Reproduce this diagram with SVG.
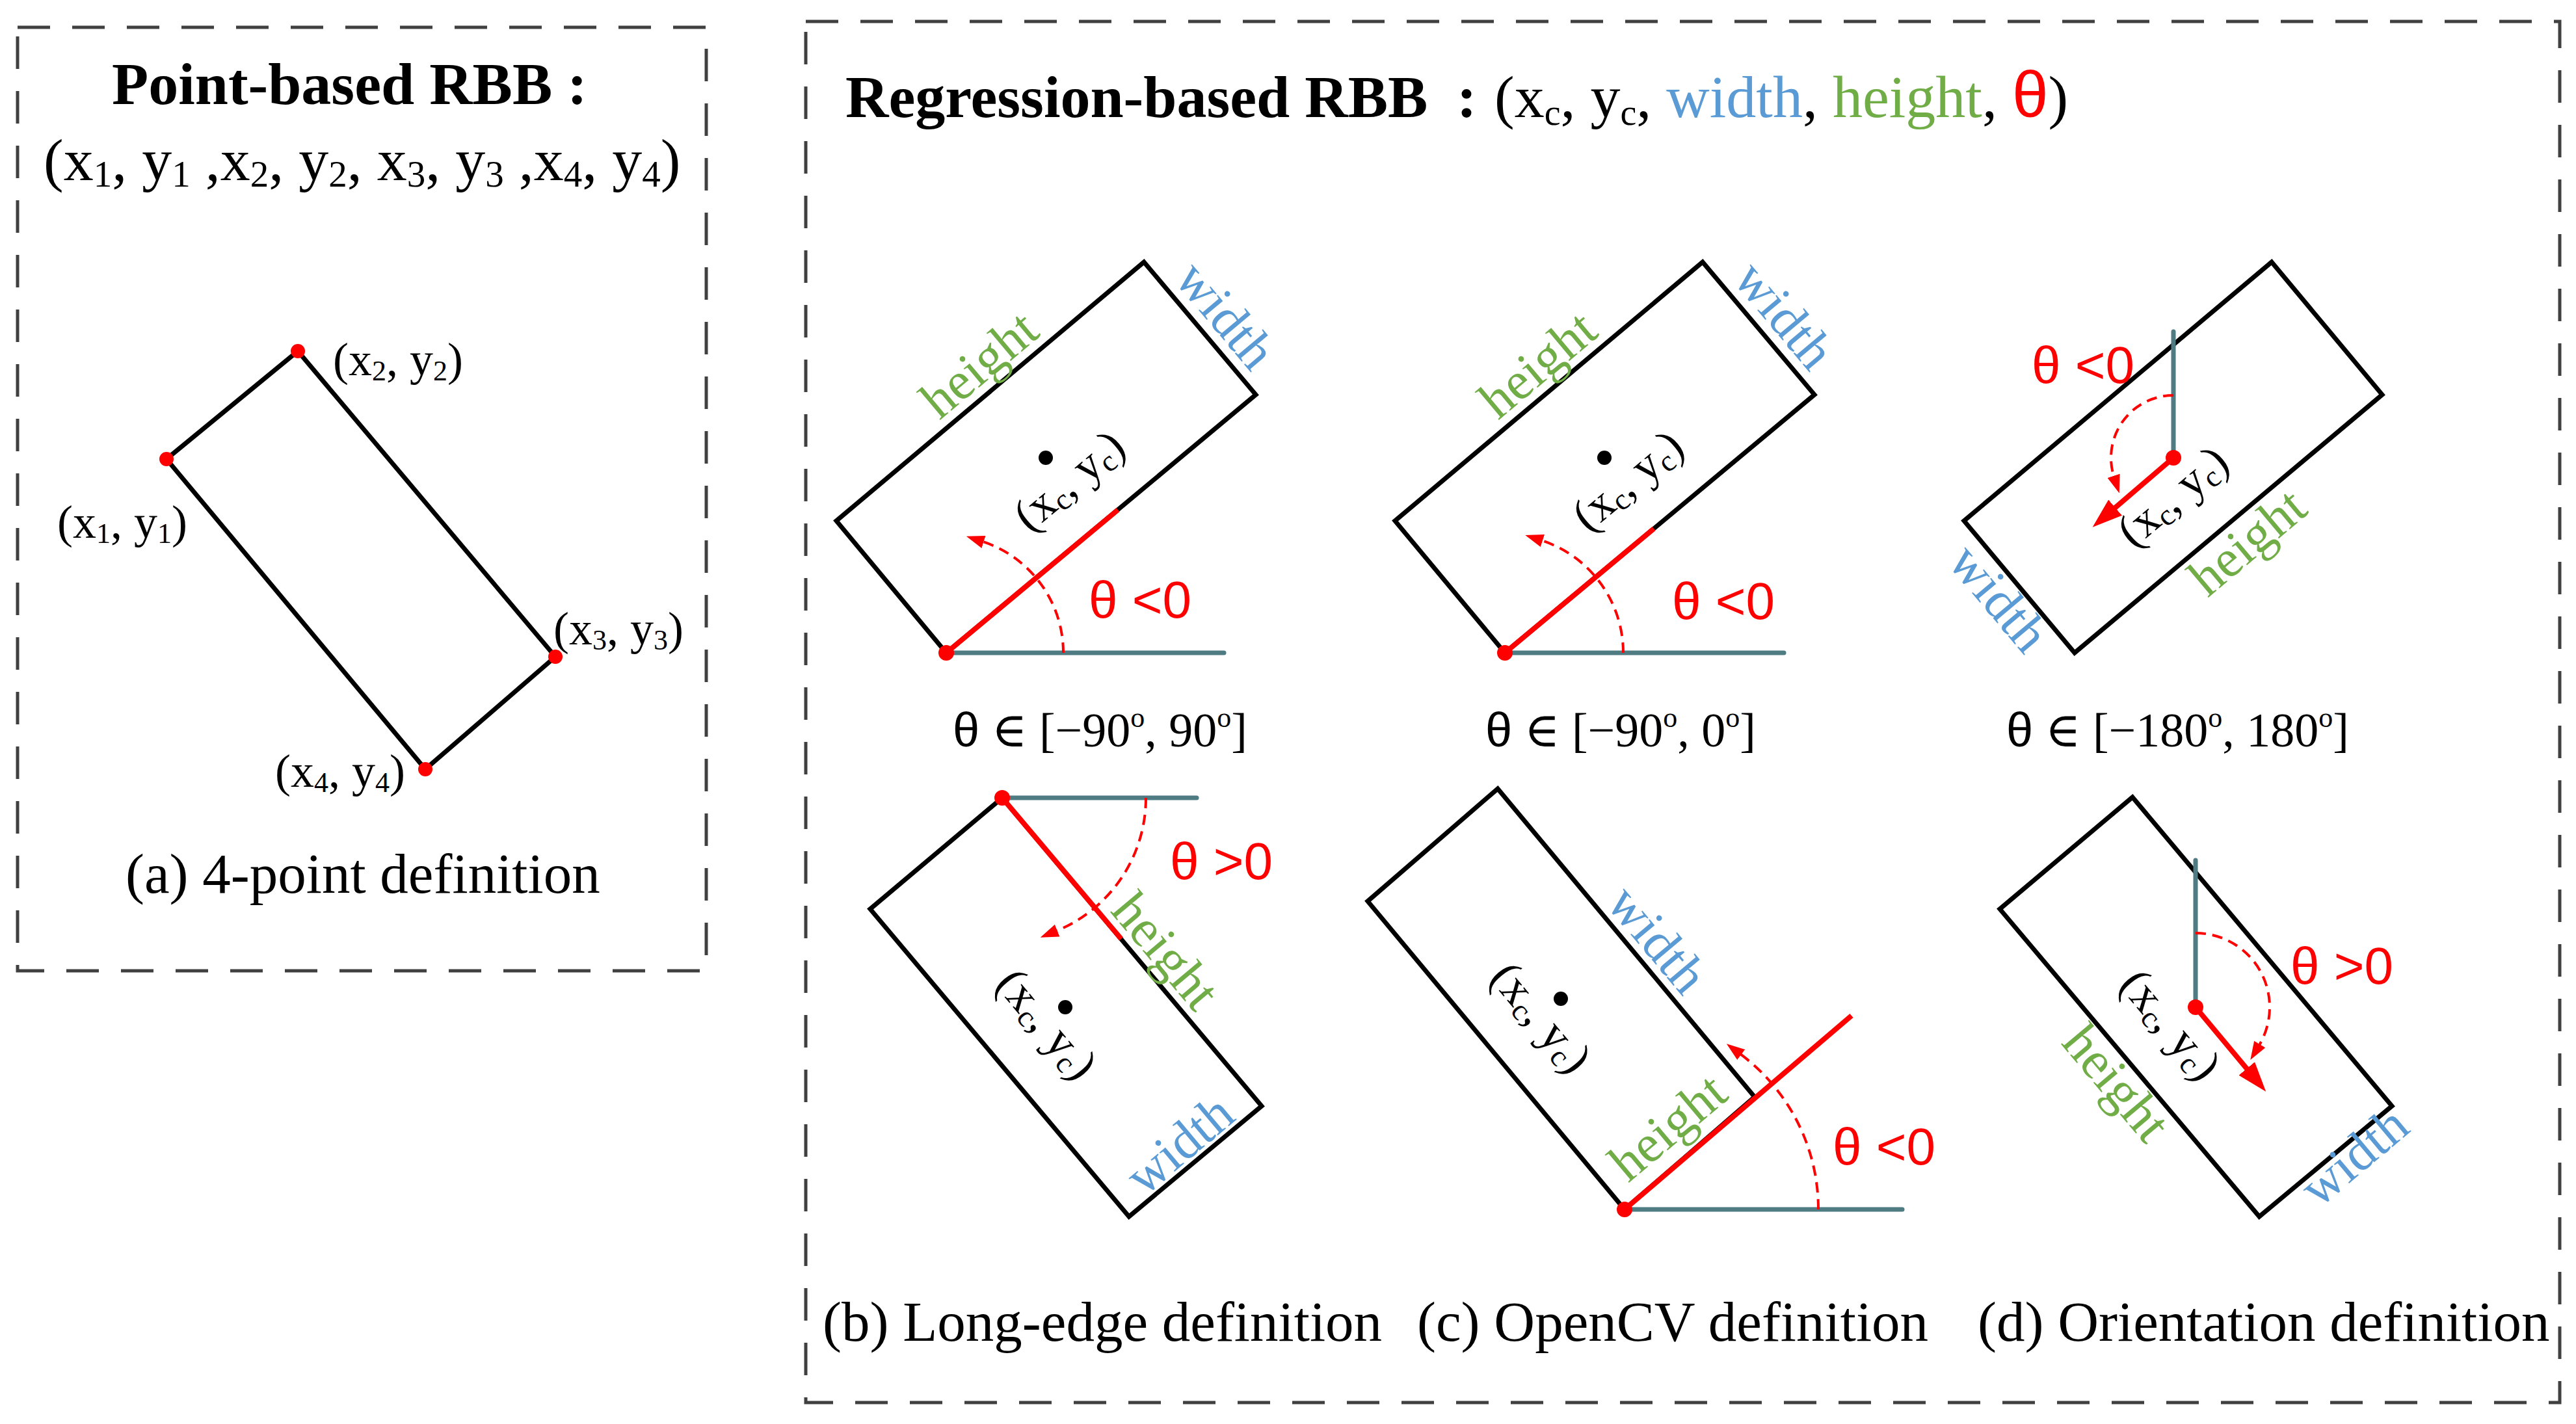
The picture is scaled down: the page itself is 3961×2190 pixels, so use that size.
<svg xmlns="http://www.w3.org/2000/svg" width="3961" height="2190" viewBox="0 0 3961 2190">
<style>
.frame{fill:none;stroke:#404040;stroke-width:5;stroke-dasharray:50 34}
.box{fill:none;stroke:#000;stroke-width:7;stroke-linejoin:miter}
.ref{stroke:#4F7B82;stroke-width:7;stroke-linecap:round;fill:none}
.red{stroke:#FF0000;stroke-width:8;fill:none}
.arc{stroke:#FF0000;stroke-width:4;fill:none;stroke-dasharray:16 10}
.serif{font-family:"Liberation Serif","Times New Roman","DejaVu Serif",serif;fill:#000}
.sans{font-family:"Liberation Sans",Arial,sans-serif}
.hgt{fill:#70AD47;font-family:"Liberation Serif","Times New Roman",serif;font-size:82px}
.wid{fill:#5B9BD5;font-family:"Liberation Serif","Times New Roman",serif;font-size:82px}
.ang{fill:#FF0000;font-family:"Liberation Sans",Arial,sans-serif;font-size:80px}
.cap{font-family:"Liberation Serif","Times New Roman",serif;font-size:87px;fill:#000}
.xc{font-family:"Liberation Serif","Times New Roman",serif;font-size:72px;fill:#000}
.rdot{fill:#FF0000}
</style>
<defs>
<marker id="ah" markerUnits="userSpaceOnUse" markerWidth="28" markerHeight="20" viewBox="0 0 28 20" refX="2" refY="10" orient="auto"><path d="M0,0 L28,10 L0,20 z" fill="#FF0000"/></marker>
<marker id="ahBig" markerUnits="userSpaceOnUse" markerWidth="46" markerHeight="32" viewBox="0 0 46 32" refX="2" refY="16" orient="auto"><path d="M0,0 L46,16 L0,32 z" fill="#FF0000"/></marker>
</defs>
<rect width="3961" height="2190" fill="#fff"/>

<g id="panel-a">
<rect class="frame" x="27" y="42" width="1059" height="1451"/>
<text class="serif" x="172" y="160" font-size="92" font-weight="bold">Point-based RBB :</text>
<text class="serif" x="67" y="277" font-size="92">(x<tspan font-size="57" dy="10">1</tspan><tspan dy="-10">, y</tspan><tspan font-size="57" dy="10">1</tspan><tspan dy="-10"> ,x</tspan><tspan font-size="57" dy="10">2</tspan><tspan dy="-10">, y</tspan><tspan font-size="57" dy="10">2</tspan><tspan dy="-10">, x</tspan><tspan font-size="57" dy="10">3</tspan><tspan dy="-10">, y</tspan><tspan font-size="57" dy="10">3</tspan><tspan dy="-10"> ,x</tspan><tspan font-size="57" dy="10">4</tspan><tspan dy="-10">, y</tspan><tspan font-size="57" dy="10">4</tspan><tspan dy="-10">)</tspan></text>
<polygon class="box" points="256,706 458,540 854,1010 654,1183"/>
<circle class="rdot" cx="256" cy="706" r="11"/>
<circle class="rdot" cx="458" cy="540" r="11"/>
<circle class="rdot" cx="854" cy="1010" r="11"/>
<circle class="rdot" cx="654" cy="1183" r="11"/>
<text class="serif" x="512" y="577" font-size="72">(x<tspan font-size="44" dy="8">2</tspan><tspan dy="-8">, y</tspan><tspan font-size="44" dy="8">2</tspan><tspan dy="-8">)</tspan></text>
<text class="serif" x="88" y="827" font-size="72">(x<tspan font-size="44" dy="8">1</tspan><tspan dy="-8">, y</tspan><tspan font-size="44" dy="8">1</tspan><tspan dy="-8">)</tspan></text>
<text class="serif" x="851" y="991" font-size="72">(x<tspan font-size="44" dy="8">3</tspan><tspan dy="-8">, y</tspan><tspan font-size="44" dy="8">3</tspan><tspan dy="-8">)</tspan></text>
<text class="serif" x="423" y="1210" font-size="72">(x<tspan font-size="44" dy="8">4</tspan><tspan dy="-8">, y</tspan><tspan font-size="44" dy="8">4</tspan><tspan dy="-8">)</tspan></text>
<text class="cap" x="193" y="1373">(a) 4-point definition</text>
</g>

<g id="panel-regression">
<rect class="frame" x="1239" y="33" width="2697" height="2124"/>
<text class="serif" x="1300" y="180" font-size="92" font-weight="bold">Regression-based RBB</text>
<text class="serif" x="2240" y="180" font-size="92" font-weight="bold">:</text>
<text class="serif" x="2298" y="180" font-size="92">(x<tspan font-size="56" dy="12">c</tspan><tspan dy="-12">, y</tspan><tspan font-size="56" dy="12">c</tspan><tspan dy="-12">, </tspan><tspan fill="#5B9BD5">width</tspan>, <tspan fill="#70AD47">height</tspan>, <tspan class="sans" fill="#FF0000" font-size="100">θ</tspan>)</text>

<text class="serif" x="1465" y="1148" font-size="74"><tspan class="sans">θ</tspan> ∈ [−90<tspan font-size="44" dy="-30">o</tspan><tspan dy="30">, 90</tspan><tspan font-size="44" dy="-30">o</tspan><tspan dy="30">]</tspan></text>
<text class="serif" x="2284" y="1148" font-size="74"><tspan class="sans">θ</tspan> ∈ [−90<tspan font-size="44" dy="-30">o</tspan><tspan dy="30">, 0</tspan><tspan font-size="44" dy="-30">o</tspan><tspan dy="30">]</tspan></text>
<text class="serif" x="3085" y="1148" font-size="74"><tspan class="sans">θ</tspan> ∈ [−180<tspan font-size="44" dy="-30">o</tspan><tspan dy="30">, 180</tspan><tspan font-size="44" dy="-30">o</tspan><tspan dy="30">]</tspan></text>

<text class="cap" x="1265" y="2062">(b) Long-edge definition</text>
<text class="cap" x="2179" y="2062">(c) OpenCV definition</text>
<text class="cap" x="3041" y="2062">(d) Orientation definition</text>
</g>

<g id="node-b-top">
<polygon class="box" points="1286,801 1759,403 1931,607 1455,1004"/>
<line class="ref" x1="1455" y1="1004" x2="1882" y2="1004"/>
<line class="red" x1="1455" y1="1004" x2="1719" y2="784"/>
<path class="arc" d="M1635,1004 A180,180 0 0 0 1510.6,832.8" marker-end="url(#ah)"/>
<circle class="rdot" cx="1455" cy="1004" r="12"/>
<circle cx="1608" cy="704" r="11" fill="#000"/>
<text class="ang" x="1674" y="950">θ &lt;0</text>
<text class="hgt" text-anchor="middle" transform="translate(1523,581) rotate(-40)">height</text>
<text class="wid" text-anchor="middle" transform="translate(1864,502) rotate(50)">width</text>
<text class="xc" text-anchor="middle" transform="translate(1659,757) rotate(-40)">(x<tspan font-size="46" dy="8">c</tspan><tspan dy="-8">, y</tspan><tspan font-size="46" dy="8">c</tspan><tspan dy="-8">)</tspan></text>
</g>

<g id="node-c-top">
<polygon class="box" points="2145,801 2618,403 2790,607 2314,1004"/>
<line class="ref" x1="2314" y1="1004" x2="2743" y2="1004"/>
<line class="red" x1="2314" y1="1004" x2="2543" y2="813"/>
<path class="arc" d="M2496,1004 A182,182 0 0 0 2370,831" marker-end="url(#ah)"/>
<circle class="rdot" cx="2314" cy="1004" r="12"/>
<circle cx="2467" cy="704" r="11" fill="#000"/>
<text class="ang" x="2571" y="952">θ &lt;0</text>
<text class="hgt" text-anchor="middle" transform="translate(2382,581) rotate(-40)">height</text>
<text class="wid" text-anchor="middle" transform="translate(2723,502) rotate(50)">width</text>
<text class="xc" text-anchor="middle" transform="translate(2518,757) rotate(-40)">(x<tspan font-size="46" dy="8">c</tspan><tspan dy="-8">, y</tspan><tspan font-size="46" dy="8">c</tspan><tspan dy="-8">)</tspan></text>
</g>

<g id="node-d-top">
<polygon class="box" points="3020,801 3493,403 3663,607 3190,1004"/>
<line class="ref" x1="3342" y1="510" x2="3342" y2="704"/>
<path class="arc" d="M3342,608 A96,96 0 0 0 3250.7,733.7" marker-end="url(#ah)"/>
<line class="red" x1="3342" y1="704" x2="3251" y2="782" marker-end="url(#ahBig)"/>
<circle class="rdot" cx="3342" cy="704" r="12"/>
<text class="ang" x="3124" y="589">θ &lt;0</text>
<text class="xc" text-anchor="middle" transform="translate(3356,781) rotate(-40)">(x<tspan font-size="46" dy="8">c</tspan><tspan dy="-8">, y</tspan><tspan font-size="46" dy="8">c</tspan><tspan dy="-8">)</tspan></text>
<text class="hgt" text-anchor="middle" transform="translate(3473,854) rotate(-40)">height</text>
<text class="wid" text-anchor="middle" transform="translate(3053,937) rotate(50)">width</text>
</g>

<g id="node-b-bottom">
<polygon class="box" points="1338,1398 1541,1227 1940,1701 1736,1871"/>
<line class="ref" x1="1541" y1="1227" x2="1840" y2="1227"/>
<line class="red" x1="1541" y1="1227" x2="1724" y2="1444"/>
<path class="arc" d="M1762,1227 A221,221 0 0 1 1623.8,1431.9" marker-end="url(#ah)"/>
<circle class="rdot" cx="1541" cy="1227" r="12"/>
<circle cx="1638" cy="1549" r="11" fill="#000"/>
<text class="ang" x="1799" y="1352">θ &gt;0</text>
<text class="xc" text-anchor="middle" transform="translate(1592,1590) rotate(50)">(x<tspan font-size="46" dy="8">c</tspan><tspan dy="-8">, y</tspan><tspan font-size="46" dy="8">c</tspan><tspan dy="-8">)</tspan></text>
<text class="hgt" text-anchor="middle" transform="translate(1772,1480) rotate(50)">height</text>
<text class="wid" text-anchor="middle" transform="translate(1831,1781) rotate(-40)">width</text>
</g>

<g id="node-c-bottom">
<polygon class="box" points="2103,1386 2303,1213 2698,1687 2498,1860"/>
<line class="ref" x1="2498" y1="1860" x2="2925" y2="1860"/>
<line class="red" x1="2498" y1="1860" x2="2847" y2="1562"/>
<path class="arc" d="M2796,1860 A298,298 0 0 0 2675.7,1620.8" marker-end="url(#ah)"/>
<circle class="rdot" cx="2498" cy="1860" r="12"/>
<circle cx="2400" cy="1536" r="11" fill="#000"/>
<text class="ang" x="2818" y="1791">θ &lt;0</text>
<text class="xc" text-anchor="middle" transform="translate(2352,1580) rotate(50)">(x<tspan font-size="46" dy="8">c</tspan><tspan dy="-8">, y</tspan><tspan font-size="46" dy="8">c</tspan><tspan dy="-8">)</tspan></text>
<text class="wid" text-anchor="middle" transform="translate(2528,1462) rotate(50)">width</text>
<text class="hgt" text-anchor="middle" transform="translate(2582,1754) rotate(-40)">height</text>
</g>

<g id="node-d-bottom">
<polygon class="box" points="3075,1398 3279,1226 3678,1701 3474,1871"/>
<line class="ref" x1="3376" y1="1323" x2="3376" y2="1549"/>
<path class="arc" d="M3376,1435 A114,114 0 0 1 3473.7,1607.7" marker-end="url(#ah)"/>
<line class="red" x1="3376" y1="1549" x2="3456" y2="1645" marker-end="url(#ahBig)"/>
<circle class="rdot" cx="3376" cy="1549" r="12"/>
<text class="ang" x="3522" y="1513">θ &gt;0</text>
<text class="xc" text-anchor="middle" transform="translate(3320,1591) rotate(50)">(x<tspan font-size="46" dy="8">c</tspan><tspan dy="-8">, y</tspan><tspan font-size="46" dy="8">c</tspan><tspan dy="-8">)</tspan></text>
<text class="hgt" text-anchor="middle" transform="translate(3234,1683) rotate(50)">height</text>
<text class="wid" text-anchor="middle" transform="translate(3637,1799) rotate(-40)">width</text>
</g>
</svg>
